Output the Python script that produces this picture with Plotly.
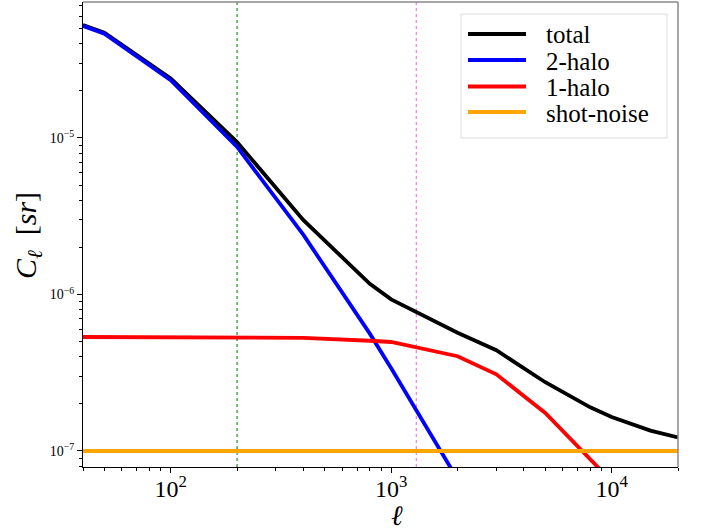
import plotly.graph_objects as go
import numpy as np

ell = [40, 50, 100, 200, 400, 800, 1000, 2000, 3000, 5000, 8000, 10000, 15000, 20000]
cl_total = [5.27e-5, 4.70e-5, 2.40e-5, 9.4e-6, 2.98e-6, 1.17e-6, 9.3e-7, 5.7e-7, 4.4e-7,
            2.75e-7, 1.9e-7, 1.65e-7, 1.35e-7, 1.22e-7]
cl_2halo = [5.2e-5, 4.64e-5, 2.34e-5, 8.76e-6, 2.40e-6, 5.62e-7, 3.38e-7, 6.6e-8, 3.1e-8,
            1.2e-8, 6e-9, 4.5e-9, 2.5e-9, 1.5e-9]
cl_1halo = [5.35e-7, 5.35e-7, 5.35e-7, 5.34e-7, 5.28e-7, 5.06e-7, 4.97e-7, 4.03e-7, 3.09e-7,
            1.75e-7, 8.9e-8, 6.5e-8, 3.55e-8, 2.2e-8]
cl_shot = [1e-7] * len(ell)

ell_vlines = [200, 1300]
vline_colors = ["#2e9a2e", "#ee82ee"]

x_range = [40, 20000]
y_range = [7.9e-8, 7.39e-5]

xtick_vals = [100, 1000, 10000]
xtick_text = ["10<sup>2</sup>", "10<sup>3</sup>", "10<sup>4</sup>"]
ytick_vals = [1e-7, 1e-6, 1e-5]
ytick_text = ["10<sup>−7</sup>", "10<sup>−6</sup>", "10<sup>−5</sup>"]
x_minor = [m * 10 ** d for d in range(1, 5) for m in range(2, 10)]
y_minor = [m * 10.0 ** d for d in range(-8, -4) for m in range(2, 10)]

names = ["total", "2-halo", "1-halo", "shot-noise"]
colors = ["black", "#0000ff", "#ff0000", "#ffa500"]
values = [cl_total, cl_2halo, cl_1halo, cl_shot]

FONT = "Liberation Serif"
W, H = 703, 531
L, R, T, B = 83, 25, 2, 64
PW, PH = W - L - R, H - T - B


def px(x):
    return (x - L) / PW


def py(y):
    return 1 - (y - T) / PH


fig = go.Figure()
for name, vals, col in zip(names, values, colors):
    fig.add_trace(go.Scatter(x=ell, y=vals, mode="lines", name=name, showlegend=False,
                             line=dict(color=col, width=3.8)))

shapes = []
annotations = []
for v, c in zip(ell_vlines, vline_colors):
    shapes.append(dict(type="line", xref="x", yref="paper", x0=v, x1=v, y0=0, y1=1,
                       line=dict(color=c, width=1.3, dash="dot"), layer="below"))
shapes.append(dict(type="line", xref="paper", yref="paper", x0=0, x1=1, y0=1, y1=1,
                   line=dict(color="#888888", width=1.5)))
shapes.append(dict(type="line", xref="paper", yref="paper", x0=1, x1=1, y0=0, y1=1,
                   line=dict(color="#888888", width=1.5)))

# legend box (drawn by hand to match the spacing)
shapes.append(dict(type="rect", xref="paper", yref="paper",
                   x0=px(461), x1=px(667), y0=py(138), y1=py(14),
                   line=dict(color="#dcdcdc", width=1), fillcolor="rgba(255,255,255,0.9)"))
leg_rows = [34, 60, 86.5, 112]
for name, col, yy in zip(names, colors, leg_rows):
    shapes.append(dict(type="line", xref="paper", yref="paper",
                       x0=px(468), x1=px(526), y0=py(yy), y1=py(yy),
                       line=dict(color=col, width=3.8)))
    annotations.append(dict(text=name, xref="paper", yref="paper", x=px(544), y=py(yy + 1),
                            xanchor="left", yanchor="middle", showarrow=False,
                            font=dict(family=FONT, size=25, color="black")))

annotations.append(dict(text="<i>ℓ</i>", xref="paper", yref="paper", x=px(397), y=py(515),
                        xanchor="center", yanchor="middle", showarrow=False,
                        font=dict(family=FONT, size=28, color="black")))
annotations.append(dict(text="<i>C</i><sub><i>ℓ</i></sub>  [<i>sr</i>]", xref="paper", yref="paper",
                        x=px(28), y=py(236), xanchor="center", yanchor="middle", showarrow=False,
                        textangle=-90, font=dict(family=FONT, size=30, color="black")))

fig.update_layout(
    width=W, height=H,
    margin=dict(l=L, r=R, t=T, b=B),
    paper_bgcolor="white", plot_bgcolor="white",
    font=dict(family=FONT, color="black"),
    shapes=shapes, annotations=annotations,
    showlegend=False,
    xaxis=dict(type="log", range=[np.log10(x_range[0]), np.log10(x_range[1])], automargin=False,
               showgrid=False, zeroline=False, showline=True, linecolor="black", linewidth=1.2,
               ticks="outside", ticklen=5, tickcolor="black",
               tickvals=xtick_vals, ticktext=xtick_text, ticklabelstandoff=-5,
               tickfont=dict(family=FONT, size=24),
               minor=dict(ticks="outside", ticklen=3, tickcolor="black", showgrid=False,
                          tickvals=x_minor)),
    yaxis=dict(type="log", range=[np.log10(y_range[0]), np.log10(y_range[1])], automargin=False,
               showgrid=False, zeroline=False, showline=True, linecolor="black", linewidth=1.2,
               ticks="outside", ticklen=5, tickcolor="black",
               tickvals=ytick_vals, ticktext=ytick_text,
               tickfont=dict(family=FONT, size=14),
               minor=dict(ticks="outside", ticklen=3, tickcolor="black", showgrid=False,
                          tickvals=y_minor)),
)

fig.write_html("out.html", config={"displayModeBar": False},
               post_script="document.body.style.margin='0';document.body.style.overflow='hidden';")
